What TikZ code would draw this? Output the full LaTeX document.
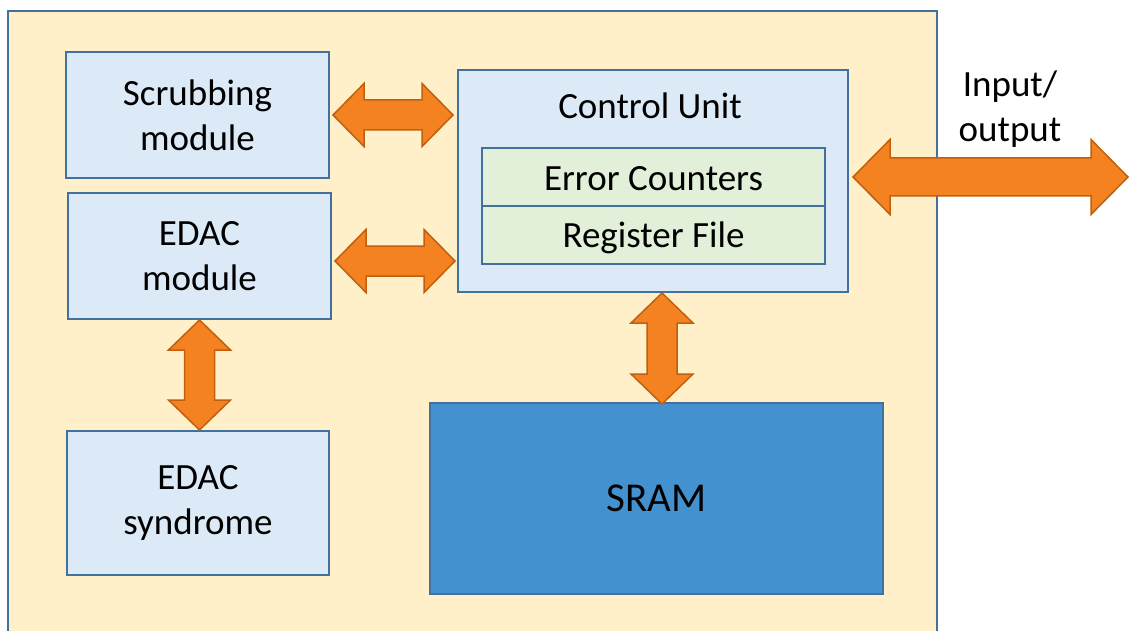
\documentclass[tikz,border=0pt]{standalone}
\usepackage{fontspec}
\setmainfont{Carlito}
\usetikzlibrary{calc}
\definecolor{outerfill}{HTML}{FFF0C9}
\definecolor{bordblue}{HTML}{41719C}
\definecolor{boxfill}{HTML}{DCE9F6}
\definecolor{greenfill}{HTML}{E2EFD9}
\definecolor{sramfill}{HTML}{4391CE}
\definecolor{arrfill}{HTML}{F58220}
\definecolor{arrdraw}{HTML}{C0600F}
\newcommand\HArr[5]{%
  \path[arr] let \p1=#1, \p2=#2 in
    (\x1,\y1) -- (\x1+#3,\y1+#4) -- (\x1+#3,\y1+#5) -- (\x2-#3,\y1+#5) -- (\x2-#3,\y1+#4)
    -- (\x2,\y1) -- (\x2-#3,\y1-#4) -- (\x2-#3,\y1-#5) -- (\x1+#3,\y1-#5) -- (\x1+#3,\y1-#4) -- cycle;}
\newcommand\VArr[5]{%
  \path[arr] let \p1=#1, \p2=#2 in
    (\x1,\y1) -- (\x1+#4,\y1-#3) -- (\x1+#5,\y1-#3) -- (\x1+#5,\y2+#3) -- (\x1+#4,\y2+#3)
    -- (\x1,\y2) -- (\x1-#4,\y2+#3) -- (\x1-#5,\y2+#3) -- (\x1-#5,\y1-#3) -- (\x1-#4,\y1-#3) -- cycle;}
\begin{document}
\begin{tikzpicture}[x=1pt,y=-1pt,
  box/.style={draw=bordblue, line width=2pt, fill=boxfill, rectangle, anchor=north west,
    inner sep=0pt, align=center, font=\fontsize{37}{45}\selectfont},
  gbox/.style={box, fill=greenfill},
  arr/.style={draw=arrdraw, line width=1.5pt, fill=arrfill, line join=miter},
  lbl/.style={inner sep=0pt, align=center, font=\fontsize{37}{45}\selectfont}]
\useasboundingbox (0,0) rectangle (1129,631);
\begin{scope}
\clip (0,0) rectangle (1129,631);
\draw[draw=bordblue, line width=2pt, fill=outerfill] (8,11) rectangle (937,650);
\end{scope}
\node[box, minimum width=263pt, minimum height=126pt] (scrub) at (65,51) {Scrubbing\\module};
\node[box, minimum width=263pt, minimum height=126pt] (edac) at (67,192) {EDAC\\module};
\node[box, minimum width=262pt, minimum height=144pt] (syn) at (66,430) {EDAC\\syndrome};
\node[box, minimum width=390pt, minimum height=222pt] (cu) at (457,69) {};
\node[lbl, anchor=base] (cut) at ($(cu.north)+(-3,50)$) {Control Unit};
\node[gbox, minimum width=343pt, minimum height=58pt] (err) at (481,147) {\raisebox{-2pt}[\height][\depth]{Error Counters}};
\node[gbox, minimum width=343pt, minimum height=58pt] (reg) at (481,205) {\raisebox{-3pt}[\height][\depth]{Register File}};
\node[box, fill=sramfill, minimum width=453pt, minimum height=191pt, font=\fontsize{41}{49}\selectfont] (sram) at (429,402) {SRAM};
\node[lbl] (io) at (1010,109) {Input/\\output};
\coordinate (ioend) at (1128,176);
\HArr{($(scrub.east)+(3,0)$)}{($(scrub.east -| cu.west)+(-4,0)$)}{31pt}{31.5pt}{15pt}
\HArr{($(edac.east)+(3,5)$)}{($(edac.east -| cu.west)+(-2,5)$)}{31pt}{31.5pt}{15pt}
\HArr{($(cu.east)+(4,-4)$)}{(ioend)}{37pt}{37.5pt}{19pt}
\VArr{(edac.south)}{(edac.south |- syn.north)}{30pt}{31pt}{15pt}
\VArr{($(cu.south)+(9,0)$)}{($(cu.south -| sram.north)+(5.5,111)$)}{30pt}{31pt}{15pt}
\end{tikzpicture}
\end{document}
